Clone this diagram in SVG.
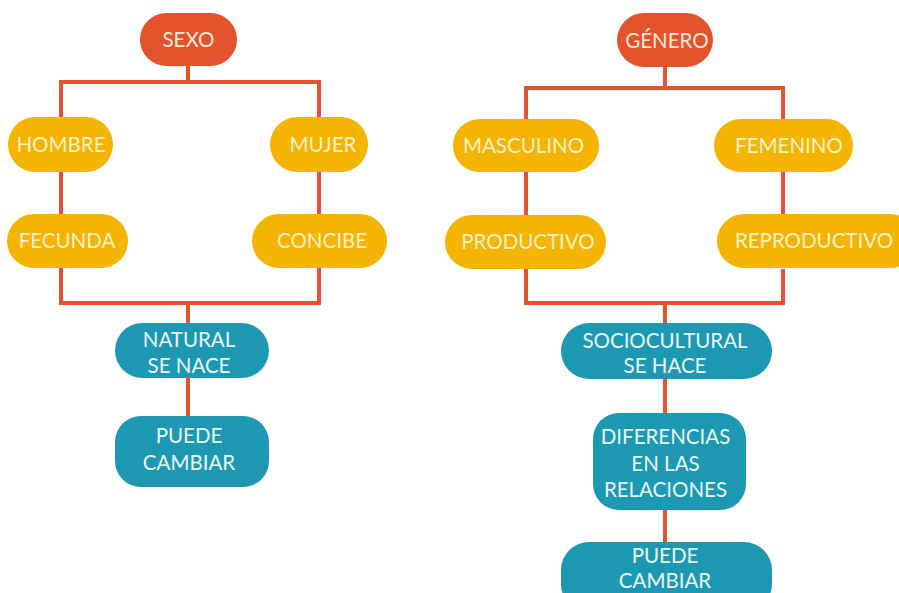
<svg xmlns="http://www.w3.org/2000/svg" width="899" height="593" viewBox="0 0 899 593">
<style>
.red{fill:#E4532B}
.yel{fill:#F4B400}
.teal{fill:#1D98B3}
text{font-family:"Lato","Liberation Sans",sans-serif;font-size:20.5px;text-anchor:middle}
.ty{fill:#FFF1C8}
.tr{fill:#FFE9D8}
.tt{fill:#EAF8FB}
.ln{stroke:#E4532B;stroke-width:4;fill:none}
</style>
<rect width="899" height="593" fill="#fff"/>
<g id="connectors">
<path class="ln" d="M188 66V82M61 117V82H319V117M61 172V214M319 172V214M61 268V303H319V268M188 303V323M188 378V416"/>
<path class="ln" d="M665 67V88M526 119V88H783V119M526 172V215M783 172V215M526 269V303H783V269M665 303V323M665 379V413M665 510V542"/>
</g>
<g id="sexo"><rect class="red" x="140" y="13" width="97" height="53" rx="26.5"/><text class="tr" x="188.5" y="47">SEXO</text></g>
<g id="hombre"><rect class="yel" x="8" y="117" width="105" height="55" rx="27.5"/><text class="ty" x="61" y="152">HOMBRE</text></g>
<g id="mujer"><rect class="yel" x="270" y="117" width="98" height="55" rx="27.5"/><text class="ty" x="323" y="152">MUJER</text></g>
<g id="fecunda"><rect class="yel" x="7" y="214" width="121" height="54" rx="27"/><text class="ty" x="67" y="248">FECUNDA</text></g>
<g id="concibe"><rect class="yel" x="252" y="214" width="135" height="54" rx="27"/><text class="ty" x="322" y="248">CONCIBE</text></g>
<g id="natural"><rect class="teal" x="115" y="323" width="154" height="55" rx="27.5"/><text class="tt" x="189" y="347">NATURAL</text><text class="tt" x="189" y="373">SE NACE</text></g>
<g id="puede1"><rect class="teal" x="115" y="416" width="154" height="71" rx="26"/><text class="tt" x="189" y="443">PUEDE</text><text class="tt" x="189" y="470">CAMBIAR</text></g>
<g id="genero"><rect class="red" x="617" y="13" width="96" height="54" rx="27"/><text class="tr" x="667" y="48">GÉNERO</text></g>
<g id="masculino"><rect class="yel" x="453" y="119" width="146" height="53" rx="26.5"/><text class="ty" x="523.5" y="153">MASCULINO</text></g>
<g id="femenino"><rect class="yel" x="714" y="119" width="139" height="53" rx="26.5"/><text class="ty" x="789" y="153">FEMENINO</text></g>
<g id="productivo"><rect class="yel" x="445" y="215" width="161" height="54" rx="27"/><text class="ty" x="528" y="249">PRODUCTIVO</text></g>
<g id="reproductivo"><rect class="yel" x="717" y="214" width="200" height="54" rx="27"/><text class="ty" x="814" y="248">REPRODUCTIVO</text></g>
<g id="sociocultural"><rect class="teal" x="561" y="323" width="211" height="56" rx="28"/><text class="tt" x="665" y="348">SOCIOCULTURAL</text><text class="tt" x="665" y="373">SE HACE</text></g>
<g id="diferencias"><rect class="teal" x="593" y="413" width="153" height="97" rx="26"/><text class="tt" x="665.5" y="444">DIFERENCIAS</text><text class="tt" x="665.5" y="471">EN LAS</text><text class="tt" x="665.5" y="497">RELACIONES</text></g>
<g id="puede2"><rect class="teal" x="561" y="542" width="211" height="70" rx="28"/><text class="tt" x="665" y="563">PUEDE</text><text class="tt" x="665" y="588">CAMBIAR</text></g>
</svg>
